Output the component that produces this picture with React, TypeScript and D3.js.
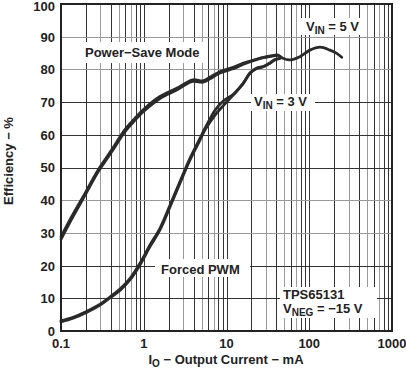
import React from "react";
import * as d3 from "d3";

const W = 406;
const H = 373;

// Power-Save Mode, VIN = 5 V (continues into high-current tail)
const psX5 = [0.1, 0.135, 0.195, 0.28, 0.41, 0.59, 0.78, 1.0, 1.57, 2.5, 3.9, 5.2, 6.3, 8.3, 12, 16, 23, 28, 34, 42, 48, 58, 77, 102, 135, 178, 215, 247];
const psY5 = [28.8, 35.0, 42.1, 49.2, 55.4, 61.5, 65.0, 67.8, 71.7, 74.2, 76.8, 76.5, 77.6, 79.3, 80.6, 81.9, 83.1, 83.7, 84.1, 84.4, 83.4, 82.9, 83.9, 85.9, 86.8, 85.9, 84.9, 83.7];
// Power-Save Mode, VIN = 3 V
const psX3 = [0.1, 0.135, 0.195, 0.28, 0.41, 0.59, 0.78, 1.0, 1.57, 2.5, 3.9, 5.2, 6.3, 8.3, 12, 16, 23, 28, 34, 42];
const psY3 = [28.0, 34.3, 41.5, 48.6, 54.8, 60.9, 64.4, 67.2, 71.1, 73.7, 76.3, 76.1, 77.1, 78.9, 80.2, 81.6, 83.0, 83.6, 84.0, 84.3];
// Forced PWM, VIN = 5 V
const pwmX5 = [0.1, 0.14, 0.2, 0.3, 0.39, 0.52, 0.68, 0.9, 1.19, 1.57, 2.08, 2.74, 3.62, 4.78, 5.5, 7.3, 9.2, 12.1, 16, 19.2, 23.2, 27.9, 33.6, 38.5, 44.3];
const pwmY5 = [2.8, 3.9, 5.6, 8.0, 10.1, 12.5, 15.6, 20.2, 25.8, 30.9, 38.0, 45.2, 52.3, 58.4, 61.5, 66.1, 69.0, 72.2, 75.7, 78.8, 80.3, 80.8, 81.9, 82.9, 83.4];
// Forced PWM, VIN = 3 V
const pwmX3 = [0.1, 0.14, 0.2, 0.3, 0.39, 0.52, 0.68, 0.9, 1.19, 1.57, 2.08, 2.74, 3.62, 4.78, 5.5, 7.3, 9.2, 12.1, 16, 19.2, 23.2, 27.9, 33.6, 38.5, 44.3];
const pwmY3 = [3.1, 4.2, 5.9, 8.3, 10.4, 12.9, 16.0, 20.7, 26.3, 31.4, 38.5, 45.7, 52.8, 58.9, 62.0, 67.6, 70.4, 72.4, 75.9, 78.9, 80.4, 80.9, 82.0, 83.0, 83.4];

const xTicks = [0.1, 1, 10, 100, 1000];
const xTickLabels = ["0.1", "1", "10", "100", "1000"];
const yTicks = [0, 10, 20, 30, 40, 50, 60, 70, 80, 90, 100];
const yGray = [90, 80, 40, 30];
const minorGray = [3, 5, 7];

const FONT = "'Liberation Sans', Arial, Helvetica, sans-serif";
const INK = "#222";

export default function App() {
  const x = d3.scaleLog().domain([0.1, 1000]).range([61, 392]);
  const y = d3.scaleLinear().domain([0, 100]).range([331, 4]);

  const line = d3
    .line<[number, number]>()
    .x((d) => x(d[0]))
    .y((d) => y(d[1]))
    .curve(d3.curveCatmullRom.alpha(0.5));

  const mk = (xs: number[], ys: number[]) => line(xs.map((v, i) => [v, ys[i]] as [number, number])) || "";

  const vLines: { v: number; gray: boolean }[] = [];
  for (let dec = 0.1; dec < 1000; dec *= 10) {
    for (let m = 2; m <= 9; m++) {
      vLines.push({ v: dec * m, gray: minorGray.includes(m) });
    }
  }
  [1, 10, 100].forEach((v) => vLines.push({ v, gray: false }));

  const curves = [
    mk(pwmX3, pwmY3),
    mk(pwmX5, pwmY5),
    mk(psX3, psY3),
    mk(psX5, psY5),
  ];

  const labelStyle = { fontFamily: FONT, fontWeight: 700, fontSize: 13, fill: INK } as const;

  return (
    <svg width={W} height={H} style={{ position: "absolute", left: 0, top: 0, background: "#fff" }}>
      <rect x={0} y={0} width={W} height={H} fill="#fff" />
      {/* grid */}
      <g>
        {vLines.map((d, i) => (
          <line
            key={"v" + i}
            x1={Math.round(x(d.v)) + 0.5}
            x2={Math.round(x(d.v)) + 0.5}
            y1={y(0)}
            y2={y(100)}
            stroke={d.gray ? "#9a9a9a" : "#333"}
            strokeWidth={1}
          />
        ))}
        {yTicks.slice(1, -1).map((t) => (
          <line
            key={"h" + t}
            x1={x(0.1)}
            x2={x(1000)}
            y1={Math.round(y(t)) + 0.5}
            y2={Math.round(y(t)) + 0.5}
            stroke={yGray.includes(t) ? "#9a9a9a" : "#333"}
            strokeWidth={1}
          />
        ))}
      </g>
      {/* label backgrounds */}
      <rect x={82} y={42} width={126} height={21} fill="#fff" />
      <rect x={300} y={18} width={67} height={17} fill="#fff" />
      <rect x={251} y={94} width={64} height={17} fill="#fff" />
      <rect x={155} y={259} width={95} height={18} fill="#fff" />
      <rect x={280} y={287} width={97} height={31} fill="#fff" />
      {/* curves */}
      <g fill="none" stroke="#2a2a2a" strokeWidth={2.8} strokeLinejoin="round" strokeLinecap="round">
        {curves.map((d, i) => (
          <path key={i} d={d} />
        ))}
      </g>
      {/* frame */}
      <rect x={x(0.1)} y={y(100)} width={x(1000) - x(0.1)} height={y(0) - y(100)} fill="none" stroke={INK} strokeWidth={2} />
      {/* y tick labels */}
      {yTicks.map((t) => (
        <text key={"yt" + t} x={55} y={Math.max(y(t), 6)} dy="0.38em" textAnchor="end" style={labelStyle}>
          {t}
        </text>
      ))}
      {/* x tick labels */}
      {xTicks.map((t, i) => (
        <text key={"xt" + t} x={x(t)} y={348} textAnchor="middle" style={labelStyle}>
          {xTickLabels[i]}
        </text>
      ))}
      {/* axis titles */}
      <text x={226} y={364} textAnchor="middle" style={labelStyle}>
        I<tspan fontSize={10} dy={3}>O</tspan>
        <tspan dy={-3}> − Output Current − mA</tspan>
      </text>
      <text transform="translate(13,161) rotate(-90)" textAnchor="middle" style={labelStyle}>
        Efficiency − %
      </text>
      {/* annotations */}
      <text x={85} y={57} style={labelStyle}>Power−Save Mode</text>
      <text x={306} y={31} style={labelStyle}>
        V<tspan fontSize={10} dy={3}>IN</tspan>
        <tspan dy={-3}> = 5 V</tspan>
      </text>
      <text x={254} y={106} style={labelStyle}>
        V<tspan fontSize={10} dy={3}>IN</tspan>
        <tspan dy={-3}> = 3 V</tspan>
      </text>
      <text x={161} y={274} style={labelStyle}>Forced PWM</text>
      <text x={283} y={299} style={labelStyle}>TPS65131</text>
      <text x={283} y={313} style={labelStyle}>
        V<tspan fontSize={10} dy={3}>NEG</tspan>
        <tspan dy={-3}> = −15 V</tspan>
      </text>
    </svg>
  );
}
